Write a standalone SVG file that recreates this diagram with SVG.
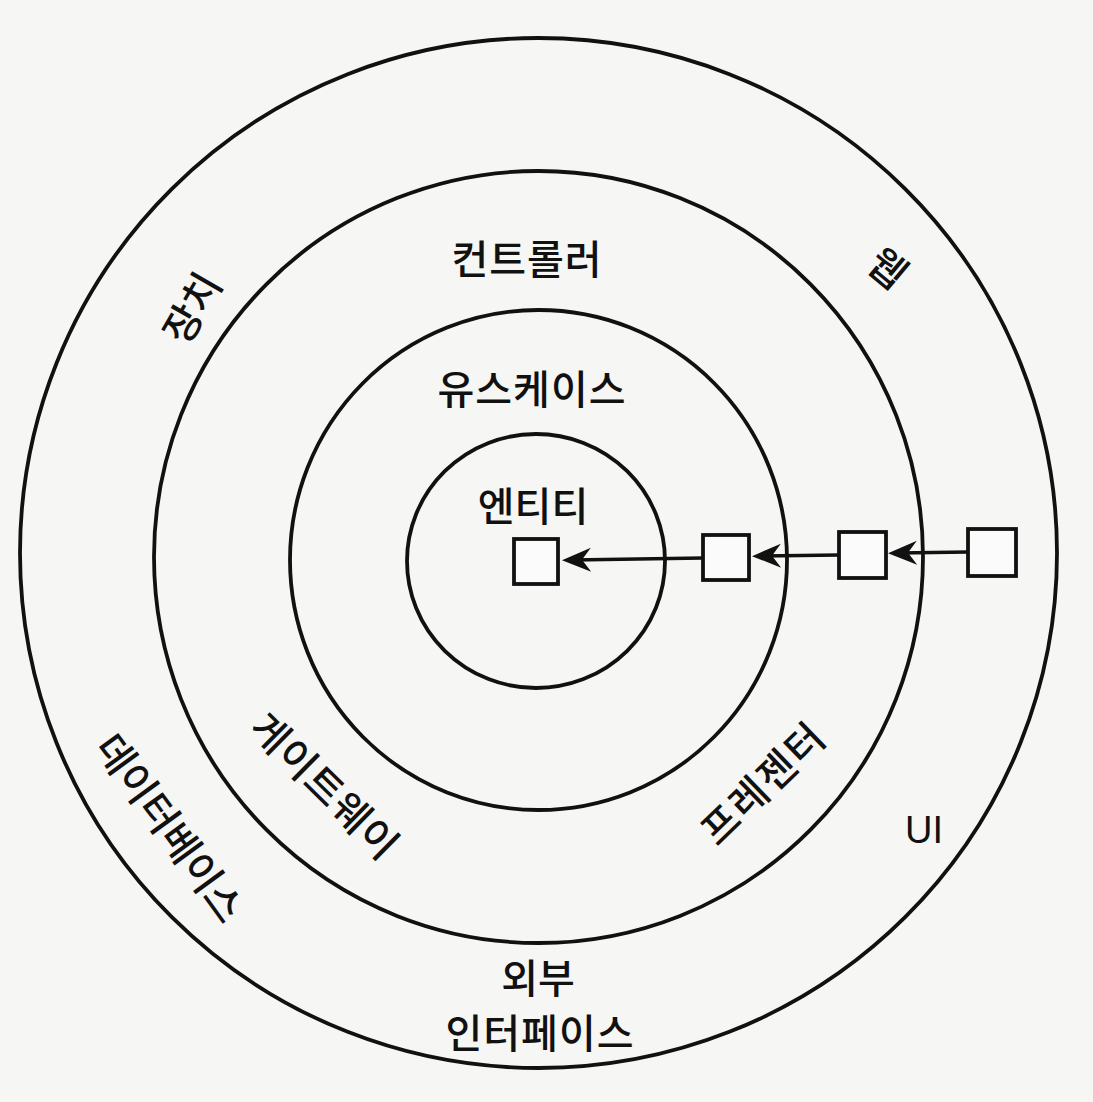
<svg xmlns="http://www.w3.org/2000/svg" width="1093" height="1102" viewBox="0 0 1093 1102">
<defs>
<style>
.ring{fill:none;stroke:#111;stroke-width:3.8}
.box{fill:#fbfbfb;stroke:#111;stroke-width:3.8}
.lbl{font-family:"Noto Sans CJK KR","Noto Sans",sans-serif;font-size:40px;font-weight:500;fill:#111;text-anchor:middle}
.lat{font-family:"Liberation Sans","Noto Sans",sans-serif;font-size:38px;fill:#111;text-anchor:middle}
.conn{stroke:#111;stroke-width:3.4;fill:none}
</style>
<marker id="arrow" markerUnits="userSpaceOnUse" viewBox="-24 -14 36 28" refX="0" refY="0" markerWidth="36" markerHeight="28" orient="auto">
<path d="M10,0 L-19,-12 L-10,0 L-19,12 Z" fill="#111"/>
</marker>
</defs>
<rect x="0" y="0" width="1093" height="1102" fill="#f6f6f4"/>

<g id="ring-frameworks">
<ellipse class="ring" cx="538.5" cy="553" rx="518.5" ry="515"/>
<text class="lbl" transform="translate(192,308) rotate(-60)" x="0" y="15">장치</text>
<text class="lbl" transform="translate(888,268) rotate(40)" x="0" y="15">웹</text>
<text class="lbl" transform="translate(170,828) rotate(54)" x="0" y="15">데이터베이스</text>
<text class="lat" x="924" y="843">UI</text>
<text class="lbl" x="538" y="993">외부</text>
<text class="lbl" x="540" y="1048" letter-spacing="1">인터페이스</text>
</g>

<g id="ring-adapters">
<ellipse class="ring" cx="538.5" cy="557" rx="384.5" ry="386"/>
<text class="lbl" x="527" y="274" letter-spacing="1">컨트롤러</text>
<text class="lbl" transform="translate(325,786) rotate(44.5)" x="0" y="15" letter-spacing="1">게이트웨이</text>
<text class="lbl" transform="translate(763,783) rotate(-44)" x="0" y="15" letter-spacing="2">프레젠터</text>
</g>

<g id="ring-usecases">
<ellipse class="ring" cx="538.5" cy="560" rx="248.5" ry="250"/>
<text class="lbl" x="532" y="404" letter-spacing="1">유스케이스</text>
</g>

<g id="ring-entities">
<ellipse class="ring" cx="536" cy="561" rx="129" ry="127"/>
<text class="lbl" x="533" y="521">엔티티</text>
</g>

<g id="box-entity"><rect class="box" x="514" y="539" width="44" height="45"/></g>
<g id="box-usecase"><rect class="box" x="703" y="535" width="46" height="45"/></g>
<g id="box-adapter"><rect class="box" x="839" y="532" width="47" height="46"/></g>
<g id="box-framework"><rect class="box" x="968" y="529" width="48" height="47"/></g>

<g id="connectors">
<line class="conn" x1="968" y1="552" x2="898" y2="553" marker-end="url(#arrow)"/>
<line class="conn" x1="839" y1="555" x2="762" y2="556" marker-end="url(#arrow)"/>
<line class="conn" x1="703" y1="558" x2="572" y2="560" marker-end="url(#arrow)"/>
</g>
</svg>
